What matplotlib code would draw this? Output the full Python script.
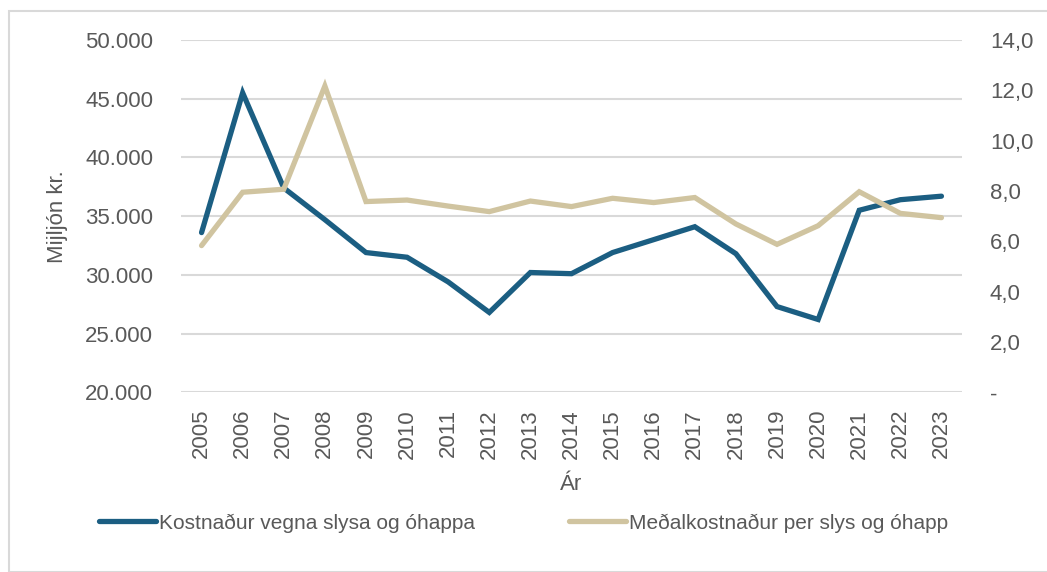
import matplotlib
matplotlib.use("Agg")
import matplotlib.pyplot as plt
from matplotlib.patches import Rectangle
from matplotlib.ticker import FuncFormatter, MultipleLocator

# data
years = [str(y) for y in range(2005, 2024)]
kostnadur = [33600, 45500, 37400, 34700, 31900, 31500, 29400, 26800, 30200, 30100,
             31900, 33000, 34100, 31800, 27300, 26200, 35500, 36400, 36700]
medalkostnadur = [5.83, 7.95, 8.07, 12.17, 7.58, 7.64, 7.40, 7.18, 7.60, 7.38,
                  7.71, 7.54, 7.74, 6.69, 5.88, 6.62, 7.97, 7.11, 6.94]
label_left = "Kostnaður vegna slysa og óhappa"
label_right = "Meðalkostnaður per slys og óhapp"

blue = "#1B5E82"
beige = "#D0C4A0"
grey_txt = "#595959"
grid_col = "#D9D9D9"

plt.rcParams['font.family'] = ['Liberation Sans', 'DejaVu Sans']

fig = plt.figure(figsize=(10.47, 5.72), dpi=100)
ax = fig.add_axes([181 / 1047, 1 - 392.3 / 572, (962 - 181) / 1047, (392.3 - 40) / 572])
ax2 = ax.twinx()

x = list(range(len(years)))
l1, = ax.plot(x, kostnadur, color=blue, lw=3.8, solid_capstyle='round', solid_joinstyle='miter', zorder=3)
l2, = ax2.plot(x, medalkostnadur, color=beige, lw=3.8, solid_capstyle='round', solid_joinstyle='miter', zorder=3)

# beige series (secondary axis) drawn on top, as in the reference
ax.set_zorder(0)
ax2.set_zorder(1)
ax2.patch.set_visible(False)

ax.set_xlim(-0.5, len(years) - 0.5)
ax.set_ylim(20000, 50000)
ax.yaxis.set_major_locator(MultipleLocator(5000))
ax.yaxis.set_major_formatter(FuncFormatter(lambda v, p: f"{int(v):,}".replace(",", ".")))
ax.grid(axis='y', color=grid_col, lw=1.5)
ax.set_axisbelow(True)

ax2.set_ylim(0, 14)
ax2.yaxis.set_major_locator(MultipleLocator(2))
ax2.yaxis.set_major_formatter(FuncFormatter(lambda v, p: "-" if v == 0 else f"{v:.1f}".replace(".", ",")))

ax.set_xticks(x)
ax.set_xticklabels(years, rotation=90)

for a in (ax, ax2):
    for s in a.spines.values():
        s.set_visible(False)
    a.tick_params(length=0, labelsize=16, labelcolor=grey_txt)
ax.tick_params(axis='y', pad=20)
ax2.tick_params(axis='y', pad=20)
ax.tick_params(axis='x', pad=12)

ax.set_ylabel("Mijljón kr.", fontsize=16, color=grey_txt)
ax.yaxis.set_label_coords(-0.145, 0.5)
ax.set_xlabel("Ár", fontsize=16, color=grey_txt)
ax.xaxis.set_label_coords(0.5, -0.232)

leg_font = ['Liberation Sans Narrow', 'Liberation Sans', 'DejaVu Sans']
fig.legend([l1, l2], [label_left, label_right], loc='center', bbox_to_anchor=(0.5, 1 - 523 / 572),
           ncol=2, frameon=False, prop={'family': leg_font, 'size': 15}, labelcolor=grey_txt,
           handlelength=2.75, handletextpad=0.15, columnspacing=4.5)

fig.patches.append(Rectangle((9 / 1047, 0), 1.1, 1 - 11 / 572, transform=fig.transFigure,
                             fill=False, edgecolor=grid_col, lw=1.5, zorder=0))

fig.savefig("out.png", dpi=100)
